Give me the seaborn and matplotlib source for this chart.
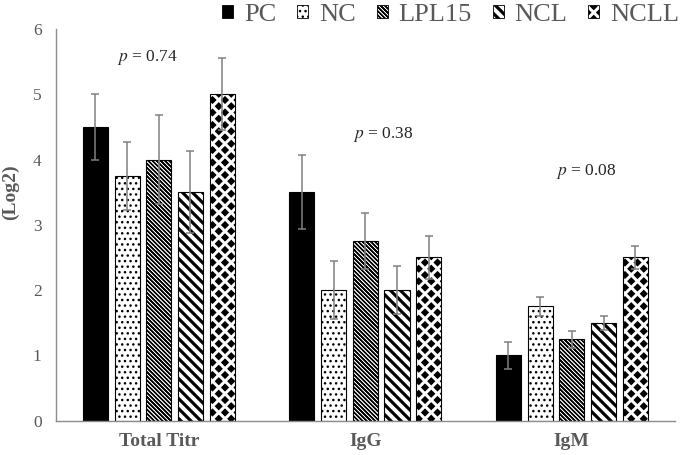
import numpy as np
import pandas as pd
import matplotlib
matplotlib.use("Agg")
import matplotlib.pyplot as plt
import matplotlib.hatch as mhatch
from matplotlib.path import Path
from matplotlib.patches import Patch
import seaborn as sns

# ---------------- data ----------------
categories = ["Total Titr", "IgG", "IgM"]
groups = ["PC", "NC", "LPL15", "NCL", "NCLL"]
pc_vals = [4.5, 3.5, 1.0]
nc_vals = [3.75, 2.0, 1.75]
lpl15_vals = [4.0, 2.75, 1.25]
ncl_vals = [3.5, 2.0, 1.5]
ncll_vals = [5.0, 2.5, 2.5]
pc_err = [0.5, 0.57, 0.21]
nc_err = [0.52, 0.45, 0.14]
lpl15_err = [0.68, 0.43, 0.13]
ncl_err = [0.63, 0.37, 0.11]
ncll_err = [0.55, 0.33, 0.17]
p_labels = ["0.74", "0.38", "0.08"]
p_x = [-0.057, 1.086, 2.07]
p_y = [5.57, 4.38, 3.81]
yticks = [0, 1, 2, 3, 4, 5, 6]

values = [pc_vals, nc_vals, lpl15_vals, ncl_vals, ncll_vals]
errors = [pc_err, nc_err, lpl15_err, ncl_err, ncll_err]

_QUAD = [Path.MOVETO, Path.LINETO, Path.LINETO, Path.LINETO, Path.CLOSEPOLY]


# ---------------- custom hatches ----------------
class DiamondHatch(mhatch.HatchPatternBase):
    def __init__(self, hatch, density):
        self.n = 8 if hatch.count('*') else 0
        if self.n:
            n = self.n
            pts = [(i / n, j / n) for i in range(n + 1) for j in range(n + 1)]
            pts += [((i + 0.5) / n, (j + 0.5) / n) for i in range(n) for j in range(n)]
            self.centers = np.array(pts)
            self.num_vertices = len(pts) * 5
        else:
            self.num_vertices = 0

    def set_vertices_and_codes(self, vertices, codes):
        r = 0.25 / self.n
        shape = np.array([[0, r], [r, 0], [0, -r], [-r, 0], [0, r]])
        vertices[:] = (self.centers[:, None, :] + shape[None, :, :]).reshape(-1, 2)
        codes[:] = np.tile(_QUAD, len(self.centers))


class _StripeBase(mhatch.HatchPatternBase):
    char = 'O'
    lines = 10
    width = 0.025

    def __init__(self, hatch, density):
        self.n = self.lines if hatch.count(self.char) else 0
        if self.n:
            self.ks = np.arange(-1, 2 * self.n + 2)
            self.num_vertices = len(self.ks) * 5
        else:
            self.num_vertices = 0

    def set_vertices_and_codes(self, vertices, codes):
        w = self.width
        parts = []
        for k in self.ks:
            c = k / self.n
            c1, c2 = c - w / 2, c + w / 2
            parts.append([(-0.5, c1 + 0.5), (1.5, c1 - 1.5), (1.5, c2 - 1.5),
                          (-0.5, c2 + 0.5), (-0.5, c1 + 0.5)])
        vertices[:] = np.array(parts).reshape(-1, 2)
        codes[:] = np.tile(_QUAD, len(self.ks))


class ThickStripeHatch(_StripeBase):
    char = 'O'
    lines = 10
    width = 0.025


class ThinStripeHatch(_StripeBase):
    char = 'o'
    lines = 24
    width = 0.002


mhatch._hatch_types = [t for t in mhatch._hatch_types
                       if t not in (mhatch.LargeCircles, mhatch.Stars,
                                    mhatch.SmallCircles)] + \
                      [ThickStripeHatch, ThinStripeHatch, DiamondHatch]

# ---------------- style ----------------
sns.set_theme(style="white")
plt.rcParams['font.family'] = ['Liberation Serif', 'DejaVu Serif']
plt.rcParams['mathtext.fontset'] = 'stix'
plt.rcParams['hatch.linewidth'] = 1.0

grey_txt = '#595959'
grey_axis = '#8c8c8c'
hatches = ['', '...', 'o', 'O', '*']
faces = ['black', 'white', 'white', 'white', 'white']

rows = []
for g, vals in zip(groups, values):
    for c, v in zip(categories, vals):
        rows.append({"Category": c, "Group": g, "Value": v})
df = pd.DataFrame(rows)

fig = plt.figure(figsize=(6.82, 4.55), dpi=100)
ax = fig.add_axes([0.0814, 0.0754, 0.9084, 0.861])

sns.barplot(data=df, x="Category", y="Value", hue="Group", order=categories,
            hue_order=groups, palette=faces, width=0.768, gap=0.21,
            errorbar=None, edgecolor='black', linewidth=0.8, legend=False,
            saturation=1, ax=ax)

for cont, h, fc, errs in zip(ax.containers, hatches, faces, errors):
    xs, ys = [], []
    for p in cont.patches:
        p.set_facecolor(fc)
        p.set_edgecolor('black')
        p.set_hatch(h)
        xs.append(p.get_x() + p.get_width() / 2)
        ys.append(p.get_height())
    ax.errorbar(xs, ys, yerr=errs, fmt='none', ecolor='#808080',
                elinewidth=1.1, capsize=2.9, capthick=1.1, zorder=5)

for lab, x, y in zip(p_labels, p_x, p_y):
    ax.text(x, y, r"$p$ = " + lab, ha='center', va='center',
            fontsize=12.5, color='#262626')

ax.set_xlim(-0.5, 2.5)
ax.set_ylim(0, 6)
ax.set_yticks(yticks)
ax.set_yticklabels([str(t) for t in yticks])
ax.tick_params(axis='y', length=0, pad=10, labelsize=12.5, labelcolor=grey_txt)
ax.tick_params(axis='x', length=0, pad=9, labelsize=14, labelcolor=grey_txt)
for lbl in ax.get_xticklabels():
    lbl.set_fontweight('bold')
ax.set_xlabel("")
ax.set_ylabel("(Log2)", fontsize=14, fontweight='bold', color=grey_txt)
ax.yaxis.set_label_coords(-0.058, 0.584)

for s in ['top', 'right']:
    ax.spines[s].set_visible(False)
for s in ['left', 'bottom']:
    ax.spines[s].set_color(grey_axis)
    ax.spines[s].set_linewidth(1.0)

handles = [Patch(facecolor=fc, edgecolor='black', hatch=h, linewidth=0.6)
           for fc, h in zip(faces, hatches)]
leg = fig.legend(handles, groups, loc='center right',
                 bbox_to_anchor=(679 / 682, 1 - 15 / 455), ncol=5,
                 frameon=False, fontsize=19, handlelength=0.42,
                 handleheight=0.42, handletextpad=0.4, columnspacing=0.8,
                 borderpad=0, borderaxespad=0)
for t in leg.get_texts():
    t.set_color(grey_txt)

fig.savefig("out.png", dpi=100)
